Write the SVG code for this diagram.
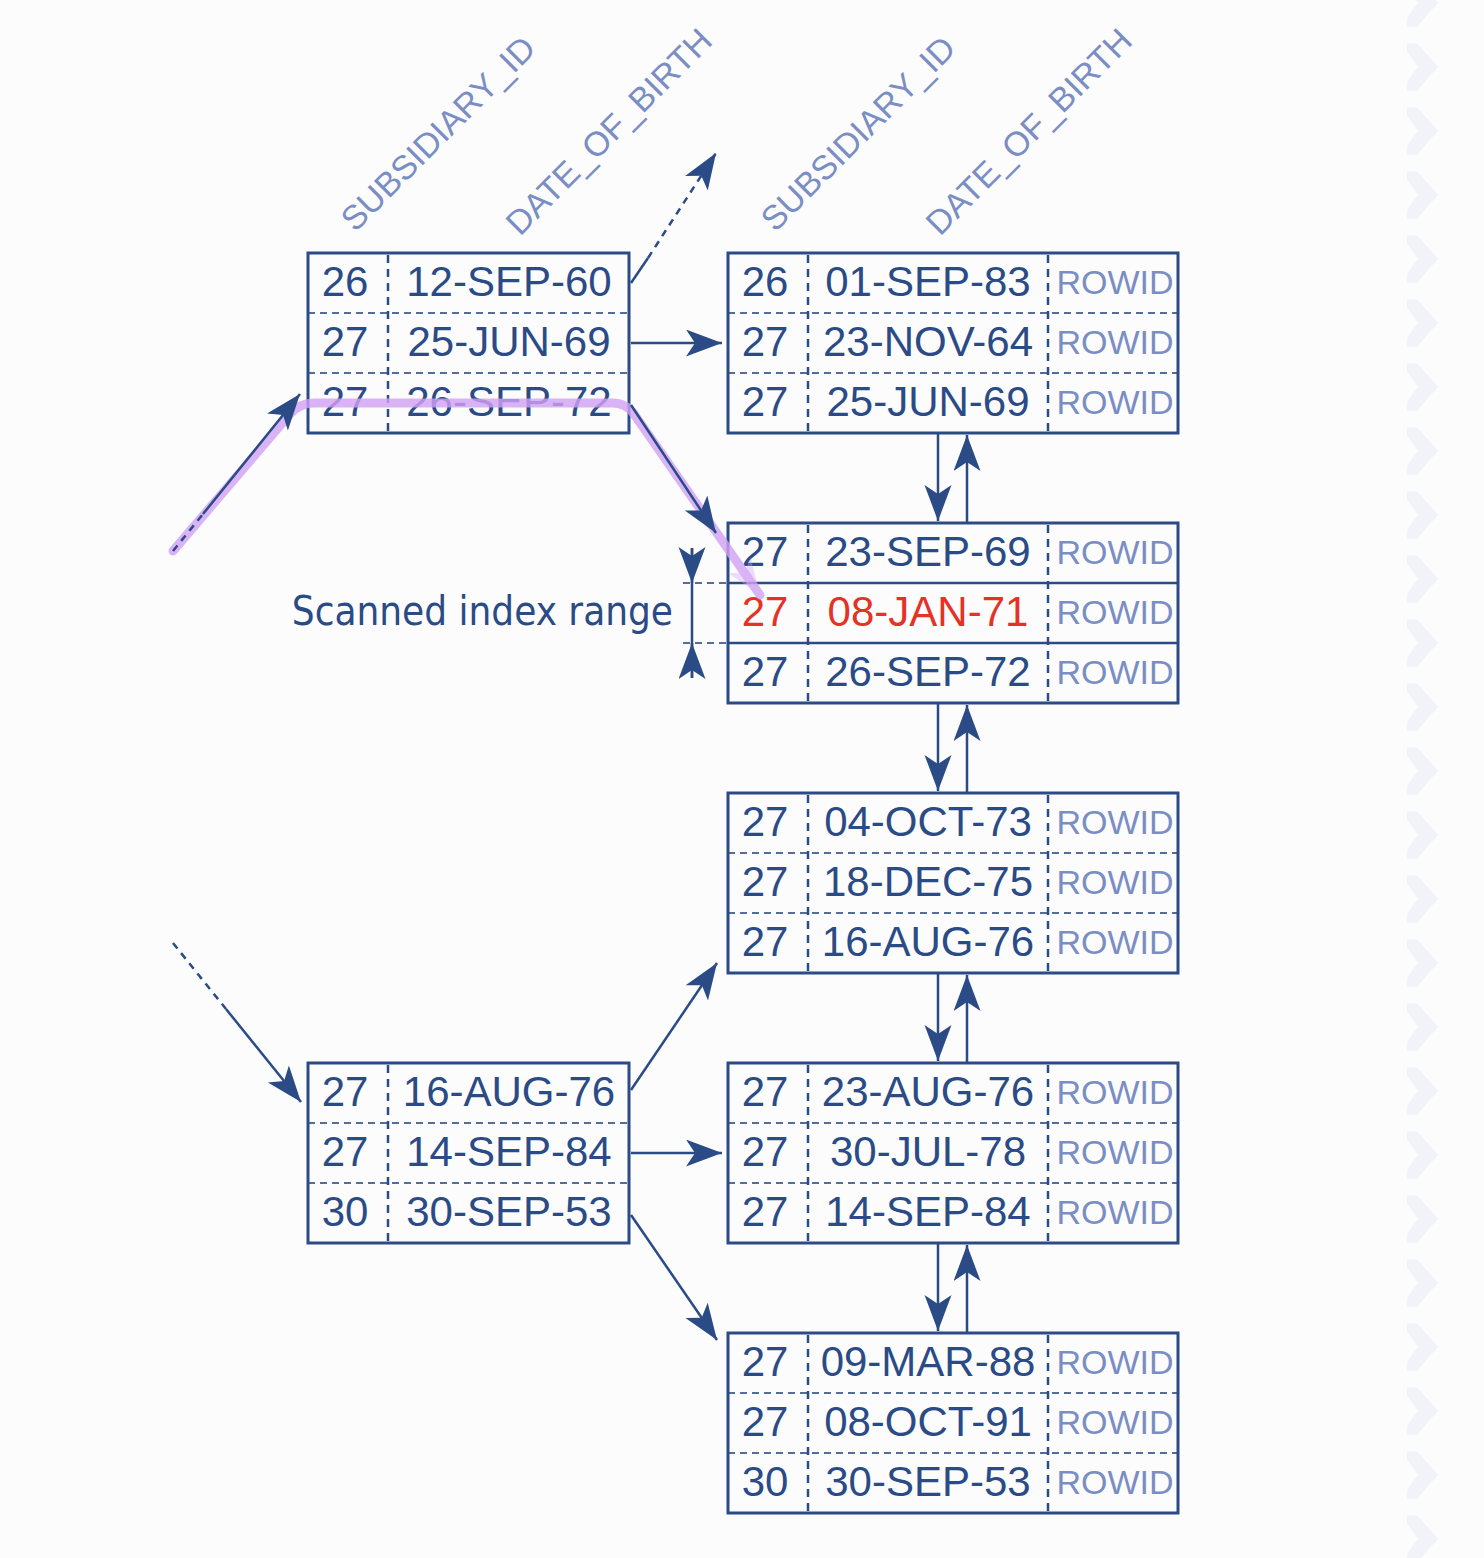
<svg xmlns="http://www.w3.org/2000/svg" xmlns:xlink="http://www.w3.org/1999/xlink" width="1484" height="1558" viewBox="0 0 1484 1558">
<style>
.bg{fill:#fcfcfd}
.chev{fill:#f1f3f9}
.box{fill:none;stroke:#2a4b86;stroke-width:3}
.sep{stroke:#2a4b86;stroke-width:2;stroke-dasharray:7 5;opacity:.8}
.solid{stroke:#2a4b86;stroke-width:2.5}
.vsep{stroke:#2a4b86;stroke-width:2.5;stroke-dasharray:8 6}
.t{font-family:"Liberation Sans",Arial,sans-serif;font-size:42px;fill:#2a4b86;text-anchor:middle}
.r{font-size:34px;fill:#7a8ec4}
.red{fill:#e53225}
.hdr{font-family:"Liberation Sans",Arial,sans-serif;font-size:34px;fill:#7a8ec4}
.lbl{font-family:"DejaVu Sans Condensed","DejaVu Sans",sans-serif;font-stretch:condensed;font-size:40px;fill:#2a4b86;text-anchor:end}
.c{stroke:#2a4b86;stroke-width:2.5;fill:none}
.d{stroke-dasharray:7 6}
.hl{stroke:#d2a2f6;stroke-width:9;fill:none;stroke-linejoin:round;stroke-linecap:round;opacity:.8}
</style>
<defs>
<marker id="ah" markerUnits="userSpaceOnUse" markerWidth="40" markerHeight="30" refX="36" refY="13.5" orient="auto">
<path d="M0,0 L36,13.5 L0,27 L9,13.5 Z" fill="#2a4b86"/>
</marker>
<marker id="ahp" markerUnits="userSpaceOnUse" markerWidth="40" markerHeight="30" refX="36" refY="13.5" orient="auto">
<path d="M0,0 L36,13.5 L0,27 L9,13.5 Z" fill="#d2a2f6" opacity=".45"/>
</marker>
<path id="chv" d="M1407,-23.4 L1417,-23.4 L1438,0 L1417,24 L1407,24 L1407,15 L1418,0 L1407,-15 Z"/>
</defs>
<rect class="bg" x="0" y="0" width="1484" height="1558"/>
<g id="chevrons" class="chev">
<use xlink:href="#chv" y="2.7"/><use xlink:href="#chv" y="66.7"/><use xlink:href="#chv" y="130.7"/><use xlink:href="#chv" y="194.7"/><use xlink:href="#chv" y="258.7"/><use xlink:href="#chv" y="322.7"/><use xlink:href="#chv" y="386.7"/><use xlink:href="#chv" y="450.7"/><use xlink:href="#chv" y="514.7"/><use xlink:href="#chv" y="578.7"/><use xlink:href="#chv" y="642.7"/><use xlink:href="#chv" y="706.7"/><use xlink:href="#chv" y="770.7"/><use xlink:href="#chv" y="834.7"/><use xlink:href="#chv" y="898.7"/><use xlink:href="#chv" y="962.7"/><use xlink:href="#chv" y="1026.7"/><use xlink:href="#chv" y="1090.7"/><use xlink:href="#chv" y="1154.7"/><use xlink:href="#chv" y="1218.7"/><use xlink:href="#chv" y="1282.7"/><use xlink:href="#chv" y="1346.7"/><use xlink:href="#chv" y="1410.7"/><use xlink:href="#chv" y="1474.7"/><use xlink:href="#chv" y="1538.7"/>
</g>
<g id="headers">
<text class="hdr" transform="translate(355,233) rotate(-45)">SUBSIDIARY_ID</text>
<text class="hdr" transform="translate(520,237) rotate(-45)">DATE_OF_BIRTH</text>
<text class="hdr" transform="translate(775,233) rotate(-45)">SUBSIDIARY_ID</text>
<text class="hdr" transform="translate(940,237) rotate(-45)">DATE_OF_BIRTH</text>
</g>
<g id="branch-top">
<line class="sep" x1="308" y1="313" x2="629" y2="313"/>
<line class="sep" x1="308" y1="373" x2="629" y2="373"/>
<line class="vsep" x1="388" y1="255" x2="388" y2="431"/>
<rect class="box" x="308" y="253" width="321" height="180"/>
<text class="t" x="345" y="296">26</text><text class="t" x="509" y="296">12-SEP-60</text>
<text class="t" x="345" y="356">27</text><text class="t" x="509" y="356">25-JUN-69</text>
<text class="t" x="345" y="416">27</text><text class="t" x="509" y="416">26-SEP-72</text>
</g>
<g id="branch-bottom">
<line class="sep" x1="308" y1="1123" x2="629" y2="1123"/>
<line class="sep" x1="308" y1="1183" x2="629" y2="1183"/>
<line class="vsep" x1="388" y1="1065" x2="388" y2="1241"/>
<rect class="box" x="308" y="1063" width="321" height="180"/>
<text class="t" x="345" y="1106">27</text><text class="t" x="509" y="1106">16-AUG-76</text>
<text class="t" x="345" y="1166">27</text><text class="t" x="509" y="1166">14-SEP-84</text>
<text class="t" x="345" y="1226">30</text><text class="t" x="509" y="1226">30-SEP-53</text>
</g>
<g id="leaf-1">
<line class="sep" x1="728" y1="313" x2="1178" y2="313"/>
<line class="sep" x1="728" y1="373" x2="1178" y2="373"/>
<line class="vsep" x1="808" y1="255" x2="808" y2="431"/>
<line class="vsep" x1="1048" y1="255" x2="1048" y2="431"/>
<rect class="box" x="728" y="253" width="450" height="180"/>
<text class="t" x="765" y="296">26</text><text class="t" x="928" y="296">01-SEP-83</text><text class="t r" x="1115" y="294">ROWID</text>
<text class="t" x="765" y="356">27</text><text class="t" x="928" y="356">23-NOV-64</text><text class="t r" x="1115" y="354">ROWID</text>
<text class="t" x="765" y="416">27</text><text class="t" x="928" y="416">25-JUN-69</text><text class="t r" x="1115" y="414">ROWID</text>
</g>
<g id="leaf-2">
<line class="solid" x1="728" y1="583" x2="1178" y2="583"/>
<line class="solid" x1="728" y1="643" x2="1178" y2="643"/>
<line class="vsep" x1="808" y1="525" x2="808" y2="701"/>
<line class="vsep" x1="1048" y1="525" x2="1048" y2="701"/>
<rect class="box" x="728" y="523" width="450" height="180"/>
<text class="t" x="765" y="566">27</text><text class="t" x="928" y="566">23-SEP-69</text><text class="t r" x="1115" y="564">ROWID</text>
<text class="t red" x="765" y="626">27</text><text class="t red" x="928" y="626">08-JAN-71</text><text class="t r" x="1115" y="624">ROWID</text>
<text class="t" x="765" y="686">27</text><text class="t" x="928" y="686">26-SEP-72</text><text class="t r" x="1115" y="684">ROWID</text>
</g>
<g id="leaf-3">
<line class="sep" x1="728" y1="853" x2="1178" y2="853"/>
<line class="sep" x1="728" y1="913" x2="1178" y2="913"/>
<line class="vsep" x1="808" y1="795" x2="808" y2="971"/>
<line class="vsep" x1="1048" y1="795" x2="1048" y2="971"/>
<rect class="box" x="728" y="793" width="450" height="180"/>
<text class="t" x="765" y="836">27</text><text class="t" x="928" y="836">04-OCT-73</text><text class="t r" x="1115" y="834">ROWID</text>
<text class="t" x="765" y="896">27</text><text class="t" x="928" y="896">18-DEC-75</text><text class="t r" x="1115" y="894">ROWID</text>
<text class="t" x="765" y="956">27</text><text class="t" x="928" y="956">16-AUG-76</text><text class="t r" x="1115" y="954">ROWID</text>
</g>
<g id="leaf-4">
<line class="sep" x1="728" y1="1123" x2="1178" y2="1123"/>
<line class="sep" x1="728" y1="1183" x2="1178" y2="1183"/>
<line class="vsep" x1="808" y1="1065" x2="808" y2="1241"/>
<line class="vsep" x1="1048" y1="1065" x2="1048" y2="1241"/>
<rect class="box" x="728" y="1063" width="450" height="180"/>
<text class="t" x="765" y="1106">27</text><text class="t" x="928" y="1106">23-AUG-76</text><text class="t r" x="1115" y="1104">ROWID</text>
<text class="t" x="765" y="1166">27</text><text class="t" x="928" y="1166">30-JUL-78</text><text class="t r" x="1115" y="1164">ROWID</text>
<text class="t" x="765" y="1226">27</text><text class="t" x="928" y="1226">14-SEP-84</text><text class="t r" x="1115" y="1224">ROWID</text>
</g>
<g id="leaf-5">
<line class="sep" x1="728" y1="1393" x2="1178" y2="1393"/>
<line class="sep" x1="728" y1="1453" x2="1178" y2="1453"/>
<line class="vsep" x1="808" y1="1335" x2="808" y2="1511"/>
<line class="vsep" x1="1048" y1="1335" x2="1048" y2="1511"/>
<rect class="box" x="728" y="1333" width="450" height="180"/>
<text class="t" x="765" y="1376">27</text><text class="t" x="928" y="1376">09-MAR-88</text><text class="t r" x="1115" y="1374">ROWID</text>
<text class="t" x="765" y="1436">27</text><text class="t" x="928" y="1436">08-OCT-91</text><text class="t r" x="1115" y="1434">ROWID</text>
<text class="t" x="765" y="1496">30</text><text class="t" x="928" y="1496">30-SEP-53</text><text class="t r" x="1115" y="1494">ROWID</text>
</g>
<g id="highlight">
<path class="hl" marker-end="url(#ahp)" d="M173,551 L290,414 Q300,403 314,403 L612,403 Q626,403 634,414 L760,595"/>
</g>
<g id="scan-range">
<line class="sep" x1="683" y1="583" x2="728" y2="583"/>
<line class="sep" x1="683" y1="643" x2="728" y2="643"/>
<line class="c" x1="692" y1="548" x2="692" y2="678"/>
<line class="c" x1="692" y1="548" x2="692" y2="583" marker-end="url(#ah)"/>
<line class="c" x1="692" y1="678" x2="692" y2="643" marker-end="url(#ah)"/>
<text class="lbl" x="673" y="625">Scanned index range</text>
</g>
<g id="connectors">
<line class="c d" x1="173" y1="551" x2="203" y2="514"/>
<line class="c" x1="203" y1="514" x2="300" y2="394" marker-end="url(#ah)"/>
<line class="c" x1="631" y1="283" x2="648" y2="258"/>
<line class="c d" x1="648" y1="258" x2="716" y2="153" marker-end="url(#ah)"/>
<line class="c" x1="631" y1="343" x2="722" y2="343" marker-end="url(#ah)"/>
<line class="c" x1="631" y1="405" x2="716" y2="533" marker-end="url(#ah)"/>
<line class="c d" x1="173" y1="943" x2="226" y2="1009"/>
<line class="c" x1="226" y1="1009" x2="301" y2="1102" marker-end="url(#ah)"/>
<line class="c" x1="631" y1="1090" x2="717" y2="963" marker-end="url(#ah)"/>
<line class="c" x1="631" y1="1153" x2="722" y2="1153" marker-end="url(#ah)"/>
<line class="c" x1="631" y1="1215" x2="717" y2="1340" marker-end="url(#ah)"/>
<line class="c" x1="938" y1="434" x2="938" y2="521" marker-end="url(#ah)"/>
<line class="c" x1="967" y1="522" x2="967" y2="435" marker-end="url(#ah)"/>
<line class="c" x1="938" y1="704" x2="938" y2="791" marker-end="url(#ah)"/>
<line class="c" x1="967" y1="792" x2="967" y2="705" marker-end="url(#ah)"/>
<line class="c" x1="938" y1="974" x2="938" y2="1061" marker-end="url(#ah)"/>
<line class="c" x1="967" y1="1062" x2="967" y2="975" marker-end="url(#ah)"/>
<line class="c" x1="938" y1="1244" x2="938" y2="1331" marker-end="url(#ah)"/>
<line class="c" x1="967" y1="1332" x2="967" y2="1245" marker-end="url(#ah)"/>
</g>
</svg>
